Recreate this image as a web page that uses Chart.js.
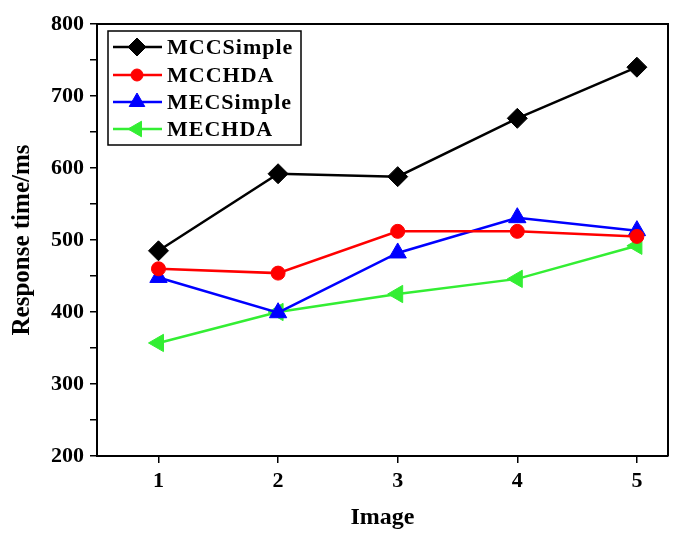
<!DOCTYPE html>
<html>
<head>
<meta charset="utf-8">
<script src="https://cdn.jsdelivr.net/npm/chart.js@4/dist/chart.umd.min.js"></script>
<style>
  html, body { margin: 0; padding: 0; background: #fff; }
  #wrap { width: 684px; height: 535px; }
</style>
</head>
<body>
<div id="wrap"><canvas id="c" width="684" height="535"></canvas></div>
<script>
const xValues = [1, 2, 3, 4, 5];
const yTickValues = [200, 250, 300, 350, 400, 450, 500, 550, 600, 650, 700, 750, 800];
const seriesNames = ["MCCSimple", "MCCHDA", "MECSimple", "MECHDA"];
const mccSimple = [485, 592, 588, 669, 740];
const mccHda = [460, 454, 512, 512, 505];
const mecSimple = [448, 399, 482, 531, 513];
const mecHda = [357, 400, 425, 446, 492];

const serif = "'Liberation Serif', 'Times New Roman', serif";

const toPoints = vals => vals.map((v, i) => ({ x: xValues[i], y: v }));

const styles = [
  { color: "#000000", pointStyle: "rectRot", radius: 10, rotation: 0 },
  { color: "#ff0000", pointStyle: "circle", radius: 7, rotation: 0 },
  { color: "#0000ff", pointStyle: "triangle", radius: 10, rotation: 0 },
  { color: "#33ee33", pointStyle: "triangle", radius: 10, rotation: -90 }
];
const allValues = [mccSimple, mccHda, mecSimple, mecHda];

const datasets = allValues.map((vals, i) => ({
  label: seriesNames[i],
  data: toPoints(vals),
  borderColor: styles[i].color,
  backgroundColor: styles[i].color,
  borderWidth: 2.5,
  pointStyle: styles[i].pointStyle,
  pointRadius: styles[i].radius,
  pointRotation: styles[i].rotation,
  pointBorderWidth: 1,
  pointBackgroundColor: styles[i].color,
  pointBorderColor: styles[i].color,
  tension: 0
}));

// frame on top and right, plus the boxed legend inside the plot
const framePlugin = {
  id: "frame",
  afterDraw(chart) {
    const { ctx, chartArea: a } = chart;
    ctx.save();
    ctx.strokeStyle = "#000";
    ctx.lineWidth = 2;
    ctx.beginPath();
    ctx.moveTo(a.left, a.top);
    ctx.lineTo(a.right, a.top);
    ctx.lineTo(a.right, a.bottom);
    ctx.stroke();

    // legend box
    ctx.lineWidth = 1.5;
    ctx.strokeRect(108, 31, 193, 114);
    const rows = [47, 75, 102, 129];
    ctx.font = "bold 22px " + serif;
    ctx.textBaseline = "middle";
    ctx.textAlign = "left";
    if ("letterSpacing" in ctx) ctx.letterSpacing = "1px";
    rows.forEach((y, i) => {
      const s = styles[i];
      ctx.strokeStyle = s.color;
      ctx.fillStyle = s.color;
      ctx.lineWidth = 2.5;
      ctx.beginPath();
      ctx.moveTo(113, y);
      ctx.lineTo(162, y);
      ctx.stroke();
      ctx.lineWidth = 1;
      Chart.helpers.drawPoint(ctx, {
        pointStyle: s.pointStyle,
        radius: s.radius - 1,
        rotation: s.rotation,
        borderWidth: 1
      }, 137, y);
      ctx.fillStyle = "#000";
      ctx.fillText(seriesNames[i], 167, y + 1);
    });
    ctx.restore();
  }
};

new Chart(document.getElementById("c"), {
  type: "line",
  data: { datasets },
  options: {
    responsive: false,
    animation: false,
    layout: { padding: { top: 24, right: 16, left: 0, bottom: 0 } },
    plugins: { legend: { display: false }, tooltip: { enabled: false } },
    scales: {
      x: {
        type: "linear",
        min: 0.486,
        max: 5.26,
        afterBuildTicks: s => { s.ticks = xValues.map(v => ({ value: v })); },
        afterFit: s => { s.height = 79; },
        grid: { drawOnChartArea: false, drawTicks: true, tickLength: 7, color: "#000", lineWidth: 1.5 },
        border: { display: true, color: "#000", width: 2 },
        ticks: { color: "#000", padding: 5, font: { family: serif, size: 22, weight: "bold" } },
        title: { display: true, text: "Image", color: "#000", padding: { top: 0, bottom: 3 },
                 font: { family: serif, size: 24, weight: "bold" } }
      },
      y: {
        min: 200,
        max: 800,
        afterBuildTicks: s => { s.ticks = yTickValues.map(v => ({ value: v })); },
        afterFit: s => { s.width = 97; },
        grid: { drawOnChartArea: false, drawTicks: true, tickLength: 7, color: "#000", lineWidth: 1.5 },
        border: { display: true, color: "#000", width: 2 },
        ticks: {
          color: "#000", padding: 6,
          font: { family: serif, size: 22, weight: "bold" },
          callback: v => (v % 100 === 0 ? String(v) : "")
        },
        title: { display: true, text: "Response time/ms", color: "#000", padding: { top: 8, bottom: 0 },
                 font: { family: serif, size: 25, weight: "bold" } }
      }
    }
  },
  plugins: [framePlugin]
});
</script>
</body>
</html>
